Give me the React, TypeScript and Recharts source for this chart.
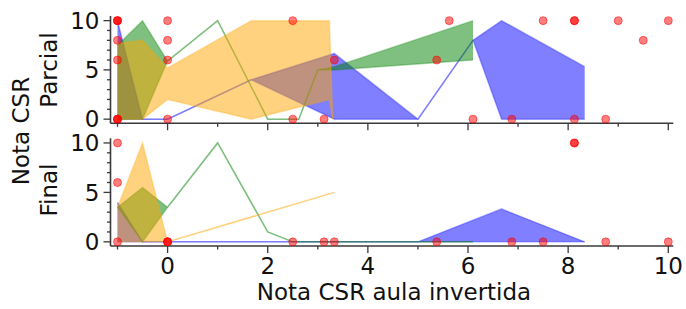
import React from 'react';
import { ComposedChart, Area, Scatter, XAxis, YAxis } from 'recharts';

const FONT = 'DejaVu Sans, sans-serif';
const AXIS = '#3a3a3a';
const FS = 23;

const xTicks = [-1, 0, 1, 2, 3, 4, 5, 6, 7, 8, 9, 10];
const yTicks = [0, 1, 2, 3, 4, 5, 6, 7, 8, 9, 10];
const xDomain = [-1.14, 10.1];
const yDomain = [-0.42, 10.47];

// Parcial bands (x, lower, upper)
const parcialBlueX = [-1, -0.5, 0, 1.67, 3.33, 5, 6.1, 6.67, 8.33];
const parcialBlueLo = [0, 0, 0, 4, 0, 0, 8, 0, 0];
const parcialBlueHi = [10, 0, 0, 4, 6.67, 0, 8, 10, 5.33];

const parcialGreenX = [-1, -0.5, 0, 1, 2, 2.62, 3, 3.33, 6.1];
const parcialGreenLo = [0, 0, 5.9, 10, 0, 0, 5, 5, 6];
const parcialGreenHi = [7.5, 10, 5.9, 10, 0, 0, 5, 5.33, 10];

const parcialOrangeX = [-1, -0.5, 0, 1.67, 3.23, 3.3];
const parcialOrangeLo = [0, 0, 2, 0, 2, 0];
const parcialOrangeHi = [7.7, 8, 5.2, 10, 10, 0];

// Final bands
const finalBlueX = [-1, -0.5, 0, 5, 6.67, 8.33];
const finalBlueLo = [0, 0, 0, 0, 0, 0];
const finalBlueHi = [4, 0, 0, 0, 3.33, 0];

const finalGreenX = [-1, -0.5, 0, 1, 2, 2.5, 6.1];
const finalGreenLo = [3.5, 0, 3.5, 10, 1, 0, 0];
const finalGreenHi = [3.5, 5.5, 3.5, 10, 1, 0, 0];

const finalOrangeX = [-1, -0.5, 0, 3.33];
const finalOrangeLo = [0, 0, 0, 5];
const finalOrangeHi = [3.5, 10, 0, 5];

// scatter points
const parcialPtX = [-1, -1, -1, -1, -1, -1, -1, -1, 0, 0, 0, 0, 2.5, 2.5, 3.125, 3.33, 5.375, 5.625, 6.1, 6.875, 7.5, 8.125, 8.125, 8.125, 8.75, 9, 9.5, 10];
const parcialPtY = [10, 10, 10, 8, 6, 0, 0, 0, 10, 8, 6, 0, 10, 0, 0, 6, 6, 10, 0, 0, 10, 10, 10, 0, 0, 10, 8, 10];

const finalPtX = [-1, -1, -1, 0, 0, 0, 2.5, 3.125, 3.33, 5.375, 6.875, 7.5, 8.125, 8.125, 8.75, 10];
const finalPtY = [10, 6, 0, 0, 0, 0, 0, 0, 0, 0, 0, 0, 10, 10, 0, 0];

const band = (xs: number[], lo: number[], hi: number[]) =>
  xs.map((x, i) => ({ x, r: [lo[i], hi[i]] }));
const pts = (xs: number[], ys: number[]) => xs.map((x, i) => ({ x, y: ys[i] }));

function XTick(props: any) {
  const { x, y, payload, showLabel } = props;
  const v = payload.value;
  const axisY = y - 10;
  const major = v % 2 === 0;
  return (
    <g>
      <line x1={x} x2={x} y1={axisY} y2={axisY + (major ? 7 : 3.5)} stroke={AXIS} strokeWidth={1.3} />
      {showLabel && major && (
        <text x={x} y={axisY + 28} textAnchor="middle" fontSize={FS} fontFamily={FONT} fill="#111">
          {v}
        </text>
      )}
    </g>
  );
}

function YTick(props: any) {
  const { x, y, payload } = props;
  const v = payload.value;
  const axisX = x + 10;
  const major = v % 5 === 0;
  return (
    <g>
      <line x1={axisX - (major ? 7 : 3.5)} x2={axisX} y1={y} y2={y} stroke={AXIS} strokeWidth={1.3} />
      {major && (
        <text x={axisX - 11} y={y + 8.3} textAnchor="end" fontSize={FS} fontFamily={FONT} fill="#111">
          {v}
        </text>
      )}
    </g>
  );
}

const Dot = (p: any) => (
  <circle cx={p.cx} cy={p.cy} r={4} fill="red" fillOpacity={0.5} stroke="red" strokeOpacity={0.5} strokeWidth={1} />
);

function Panel({ top, height, mTop, xH, showLabels, blue, green, orange, points }: any) {
  const frame = { stroke: AXIS, strokeWidth: 1.6 };
  const areaProps = { type: 'linear' as const, dataKey: 'r', strokeWidth: 1.5, strokeOpacity: 0.3, fillOpacity: 0.5, isAnimationActive: false, dot: false, activeDot: false };
  return (
    <ComposedChart
      width={686}
      height={height}
      margin={{ top: mTop, right: 12.7, bottom: 0, left: 0 }}
      style={{ position: 'absolute', left: 0, top }}
    >
      <XAxis dataKey="x" type="number" domain={xDomain} allowDataOverflow ticks={xTicks} interval={0} height={xH}
        tickSize={7} tickMargin={3} tickLine={false} axisLine={frame} tick={<XTick showLabel={showLabels} />} />
      <XAxis xAxisId="top" orientation="top" type="number" domain={xDomain} allowDataOverflow height={0} tick={false} tickLine={false} axisLine={frame} />
      <YAxis type="number" domain={yDomain} allowDataOverflow ticks={yTicks} interval={0} width={110.5}
        tickSize={6} tickMargin={4} tickLine={false} axisLine={frame} tick={<YTick />} />
      <YAxis yAxisId="right" orientation="right" type="number" domain={yDomain} allowDataOverflow width={0} tick={false} tickLine={false} axisLine={frame} />
      <Area {...areaProps} data={blue} stroke="#0000ff" fill="#0000ff" />
      <Area {...areaProps} data={green} stroke="#008000" fill="#008000" />
      <Area {...areaProps} data={orange} stroke="#ffa500" fill="#ffa500" />
      <Scatter data={points} dataKey="y" fill="red" shape={Dot} isAnimationActive={false} />
    </ComposedChart>
  );
}

export default function App() {
  return (
    <div style={{ position: 'absolute', left: 0, top: 0, width: 686, height: 309, background: '#fff' }}>
      <Panel top={0} height={140} mTop={16} xH={16.7} showLabels={false}
        blue={band(parcialBlueX, parcialBlueLo, parcialBlueHi)}
        green={band(parcialGreenX, parcialGreenLo, parcialGreenHi)}
        orange={band(parcialOrangeX, parcialOrangeLo, parcialOrangeHi)}
        points={pts(parcialPtX, parcialPtY)} />
      <Panel top={130} height={179} mTop={8.3} xH={63} showLabels={true}
        blue={band(finalBlueX, finalBlueLo, finalBlueHi)}
        green={band(finalGreenX, finalGreenLo, finalGreenHi)}
        orange={band(finalOrangeX, finalOrangeLo, finalOrangeHi)}
        points={pts(finalPtX, finalPtY)} />
      <svg width={686} height={309} style={{ position: 'absolute', left: 0, top: 0, pointerEvents: 'none' }}>
        <g fontFamily={FONT} fontSize={FS} fill="#111" textAnchor="middle">
          <text transform="translate(29,131) rotate(-90)">Nota CSR</text>
          <text transform="translate(57,70) rotate(-90)">Parcial</text>
          <text transform="translate(57,190) rotate(-90)">Final</text>
          <text x={394} y={300}>Nota CSR aula invertida</text>
        </g>
      </svg>
    </div>
  );
}
